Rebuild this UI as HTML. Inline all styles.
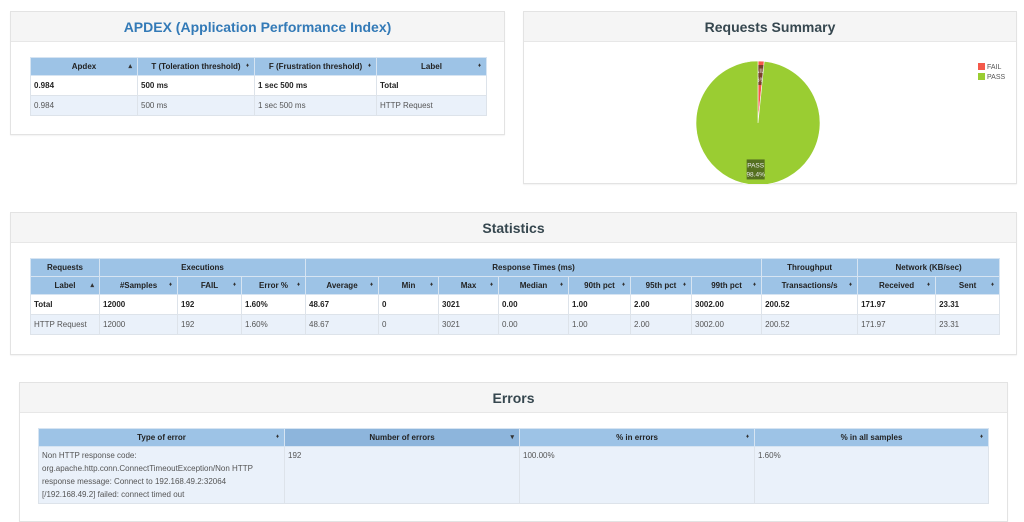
<!DOCTYPE html>
<html><head><meta charset="utf-8">
<style>
*{box-sizing:border-box}
body{margin:0;width:1024px;height:509px;overflow:hidden;background:#fff;font-family:"Liberation Sans",sans-serif;position:relative}
.panel{position:absolute;border:1px solid #e3e3e3;background:#fff;box-shadow:0 1px 1px rgba(0,0,0,.05)}
.ph{height:30px;background:#f5f5f5;border-bottom:1px solid #e7e7e7;text-align:center;font-weight:bold;font-size:14px;line-height:30px;color:#36474f}
table{position:absolute;border-collapse:collapse;table-layout:fixed;font-size:8px}
th{background:#9dc3e6;color:#222;font-weight:bold;text-align:center;border:1px solid #d6e4f2;height:18px;padding:0 3px;position:relative;white-space:nowrap}
th.s::after{content:"\2666";position:absolute;right:5px;font-size:6px;color:#333;top:5px}
th.up::after{content:"\25B4";position:absolute;right:5px;font-size:7px;color:#333;top:4px}
th.dn::after{content:"\25BE";position:absolute;right:5px;font-size:7px;color:#333;top:4px}
td{border:1px solid #dde3ea;padding:0 3px;height:20px;color:#555;white-space:nowrap}
tr.tot td{font-weight:bold;color:#222;background:#fff}
tr.req td{background:#eaf1fa}
</style></head><body>

<div class="panel" style="left:10px;top:11px;width:495px;height:124px">
<div class="ph" style="color:#337ab7">APDEX (Application Performance Index)</div>
<table style="left:19px;top:45px;width:456px">
<colgroup><col style="width:107px"><col style="width:117px"><col style="width:122px"><col style="width:110px"></colgroup>
<tr><th class="up">Apdex</th><th class="s">T (Toleration threshold)</th><th class="s">F (Frustration threshold)</th><th class="s">Label</th></tr>
<tr class="tot"><td>0.984</td><td>500 ms</td><td>1 sec 500 ms</td><td>Total</td></tr>
<tr class="req"><td>0.984</td><td>500 ms</td><td>1 sec 500 ms</td><td>HTTP Request</td></tr>
</table>
</div>

<div class="panel" style="left:523px;top:11px;width:494px;height:173px">
<div class="ph">Requests Summary</div>
<svg id="pie" width="494" height="142" style="position:absolute;left:0;top:30px"></svg>
</div>

<div class="panel" style="left:10px;top:212px;width:1007px;height:143px">
<div class="ph">Statistics</div>
<table style="left:19px;top:45px;width:969px">
<colgroup><col style="width:69px"><col style="width:78px"><col style="width:64px"><col style="width:64px"><col style="width:73px"><col style="width:60px"><col style="width:60px"><col style="width:70px"><col style="width:62px"><col style="width:61px"><col style="width:70px"><col style="width:96px"><col style="width:78px"><col style="width:64px"></colgroup>
<tr><th>Requests</th><th colspan="3">Executions</th><th colspan="7">Response Times (ms)</th><th>Throughput</th><th colspan="2">Network (KB/sec)</th></tr>
<tr><th class="up">Label</th><th class="s">#Samples</th><th class="s">FAIL</th><th class="s">Error %</th><th class="s">Average</th><th class="s">Min</th><th class="s">Max</th><th class="s">Median</th><th class="s">90th pct</th><th class="s">95th pct</th><th class="s">99th pct</th><th class="s">Transactions/s</th><th class="s">Received</th><th class="s">Sent</th></tr>
<tr class="tot"><td>Total</td><td>12000</td><td>192</td><td>1.60%</td><td>48.67</td><td>0</td><td>3021</td><td>0.00</td><td>1.00</td><td>2.00</td><td>3002.00</td><td>200.52</td><td>171.97</td><td>23.31</td></tr>
<tr class="req"><td>HTTP Request</td><td>12000</td><td>192</td><td>1.60%</td><td>48.67</td><td>0</td><td>3021</td><td>0.00</td><td>1.00</td><td>2.00</td><td>3002.00</td><td>200.52</td><td>171.97</td><td>23.31</td></tr>
</table>
</div>

<div class="panel" style="left:19px;top:382px;width:989px;height:140px">
<div class="ph">Errors</div>
<table style="left:18px;top:45px;width:950px">
<colgroup><col style="width:246px"><col style="width:235px"><col style="width:235px"><col style="width:234px"></colgroup>
<tr><th class="s">Type of error</th><th class="dn" style="background:#8db5dc">Number of errors</th><th class="s">% in errors</th><th class="s">% in all samples</th></tr>
<tr class="req"><td style="white-space:normal;vertical-align:top;line-height:13px;padding:2px 3px;height:56px">Non HTTP response code: org.apache.http.conn.ConnectTimeoutException/Non HTTP response message: Connect to 192.168.49.2:32064 [/192.168.49.2] failed: connect timed out</td><td style="vertical-align:top;padding-top:4px">192</td><td style="vertical-align:top;padding-top:4px">100.00%</td><td style="vertical-align:top;padding-top:4px">1.60%</td></tr>
</table>
</div>

<script>
const labels = ["FAIL","PASS"];
const values = [1.6, 98.4];
const colors = ["#f4594a","#9acd32"];
const svg = document.getElementById('pie');
const NS = "http://www.w3.org/2000/svg";
const cx = 234, cy = 81, r = 62;
const total = values.reduce((a,b)=>a+b,0);
function pt(frac, rr){const a = frac*2*Math.PI - Math.PI/2; return [cx+rr*Math.cos(a), cy+rr*Math.sin(a)];}
let acc = 0;
values.forEach((v,i)=>{
  const f0 = acc/total, f1 = (acc+v)/total; acc += v;
  const p0 = pt(f0,r), p1 = pt(f1,r);
  const large = (f1-f0) > 0.5 ? 1 : 0;
  const path = document.createElementNS(NS,'path');
  path.setAttribute('d',`M${cx},${cy} L${p0[0]},${p0[1]} A${r},${r} 0 ${large} 1 ${p1[0]},${p1[1]} Z`);
  path.setAttribute('fill',colors[i]);
  path.setAttribute('stroke','#fff');
  path.setAttribute('stroke-width','0.6');
  
  
  svg.appendChild(path);
  const mid = (f0+f1)/2;
  const lp = i===0 ? [cx, cy-r+14] : pt(mid, r*0.75);
  const g = document.createElementNS(NS,'g');
  
  
  const rect = document.createElementNS(NS,'rect');
  rect.setAttribute('x',lp[0]-9); rect.setAttribute('y',lp[1]-10);
  rect.setAttribute('width',18); rect.setAttribute('height',20);
  rect.setAttribute('fill','rgba(40,50,20,0.6)');
  g.appendChild(rect);
  [labels[i], v.toFixed(1)+'%'].forEach((t,k)=>{
    const tx = document.createElementNS(NS,'text');
    tx.setAttribute('x',lp[0]); tx.setAttribute('y',lp[1]-2+k*9);
    tx.setAttribute('text-anchor','middle'); tx.setAttribute('font-size','6.5');
    tx.setAttribute('fill','#eee'); tx.textContent = t;
    g.appendChild(tx);
  });
  svg.appendChild(g);
  const lg = document.createElementNS(NS,'g');
  
  
  const sw = document.createElementNS(NS,'rect');
  sw.setAttribute('x',454); sw.setAttribute('y',21+i*10); sw.setAttribute('width',7); sw.setAttribute('height',7);
  sw.setAttribute('fill',colors[i]); lg.appendChild(sw);
  const lt = document.createElementNS(NS,'text');
  lt.setAttribute('x',463); lt.setAttribute('y',27+i*10); lt.setAttribute('font-size','7');
  lt.setAttribute('fill','#555'); lt.textContent = labels[i];
  lg.appendChild(lt);
  svg.appendChild(lg);
});
</script>
</body></html>
